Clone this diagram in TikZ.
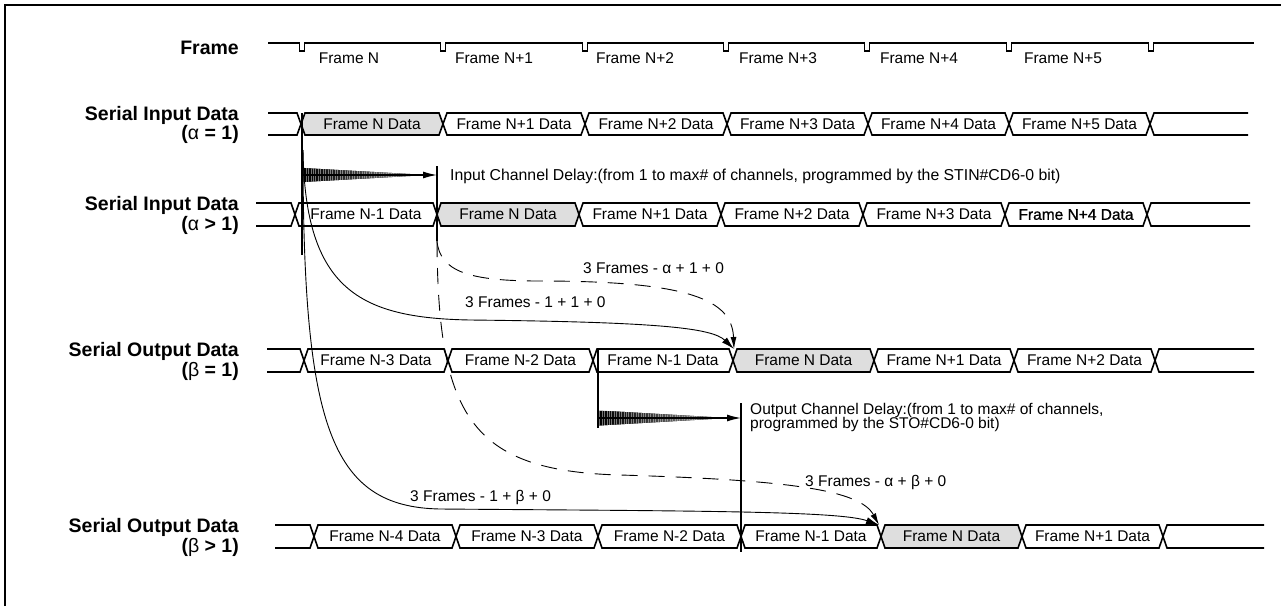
\documentclass[tikz,border=0pt]{standalone}
\usepackage{fontspec}
\setmainfont{Liberation Sans}
\newfontfamily\heavyfont[FakeBold=0.8]{Liberation Sans}
\usetikzlibrary{arrows.meta}
\definecolor{shade}{HTML}{DEDEDE}
\newcommand\busbox[5]{\draw[bus,fill=#5] (#1,{(#3+#4)/2}) -- (#1+4,#3) -- (#2-4,#3) -- (#2,{(#3+#4)/2}) -- (#2-4,#4) -- (#1+4,#4) -- cycle;}
\newcommand\busstart[4]{\draw[bus] (#1,#3) -- (#2-4,#3) -- (#2,{(#3+#4)/2}) -- (#2-4,#4) -- (#1,#4);}
\newcommand\busend[4]{\draw[bus] (#1,#3) -- (#2+4,#3) -- (#2,{(#3+#4)/2}) -- (#2+4,#4) -- (#1,#4);}
\newcommand\hatchwedge[4]{%
  \begin{scope}
    \clip (#1,#2-#3) -- (#4,#2) -- (#1,#2+#3) -- cycle;
    \fill[left color=black!55,right color=black!30] (#1,#2-#3) rectangle (#4,#2+#3);
    \foreach \k in {0,...,75}{\draw[black,line width=0.8pt,opacity={max(0.25,1-\k/70)}] ({#1+1+1.7*\k},#2-#3) -- ({#1+1+1.7*\k},#2+#3);}
  \end{scope}}
\begin{document}
\begin{tikzpicture}[x=1pt,y=-1pt,
  bus/.style={line width=1.6pt,line join=miter},
  sig/.style={line width=1.6pt},
  vline/.style={line width=1.7pt},
  curve/.style={line width=0.9pt,-{Latex[length=13pt,width=7pt]}},
  dcurve/.style={line width=0.9pt,dash pattern=on 16pt off 11pt,-{Latex[length=12pt,width=6pt]}},
  dat/.style={font=\fontsize{15.5}{15.5}\selectfont,inner sep=0pt},
  lab/.style={font=\fontsize{19.5}{16.5}\selectfont\bfseries,inner sep=0pt,align=right,anchor=east},
  note/.style={font=\fontsize{15.8}{15.8}\selectfont,inner sep=0pt,anchor=base west},
]
\useasboundingbox (0,0) rectangle (1281,606);
\draw[line width=2.5pt] (5,606) -- (5,5) -- (1281,5);

% Frame row
\draw[sig] (268,43) \foreach \n in {302,443,585,726,867,1009,1151}{ -- (\n-2.5,43) -- (\n-2.5,51) -- (\n+2.5,51) -- (\n+2.5,43)} -- (1254,43);
\foreach \x/\t [count=\i] in {349/{Frame N},494/{Frame N+1},635/{Frame N+2},778/{Frame N+3},919/{Frame N+4},1063/{Frame N+5}}
  \node[dat,anchor=base] (f\i) at (\x,63) {\t};

% left labels
\node[lab,anchor=base east] (L0) at (239,54) {Frame};
\node[lab] (L1) at (239,125) {Serial Input Data\\({\mdseries α} = 1)};
\node[lab] (L2) at (239,215.5) {Serial Input Data\\({\mdseries α} > 1)};
\node[lab] (L3) at (239,361.5) {Serial Output Data\\({\mdseries β} = 1)};
\node[lab] (L4) at (239,537.5) {Serial Output Data\\({\mdseries β} > 1)};

% Serial input alpha = 1
\busstart{268}{301}{113}{135}
\foreach \a/\b/\f/\t [count=\i] in {301/443/shade/{Frame N Data},443/585/none/{Frame N+1 Data},585/727/none/{Frame N+2 Data},727/868/none/{Frame N+3 Data},868/1009/none/{Frame N+4 Data},1009/1150/none/{Frame N+5 Data}}{
  \busbox{\a}{\b}{113}{135}{\f}
  \node[dat] (ra\i) at ({(\a+\b)/2},124) {\t};}
\busend{1248}{1150}{113}{135}

% Serial input alpha > 1
\busstart{256}{295}{203}{226}
\foreach \a/\b/\f/\t [count=\i] in {295/437/none/{Frame N-1 Data},437/579/shade/{Frame N Data},579/721/none/{Frame N+1 Data},721/863/none/{Frame N+2 Data},863/1005/none/{Frame N+3 Data},1005/1147/none/{\heavyfont Frame N+4 Data}}{
  \busbox{\a}{\b}{203}{226}{\f}
  \node[dat] (rb\i) at ({(\a+\b)/2},214.5) {\t};}
\busend{1250}{1147}{203}{226}

% Serial output beta = 1
\busstart{267}{304}{349}{372}
\foreach \a/\b/\f/\t [count=\i] in {304/448/none/{Frame N-3 Data},448/593/none/{Frame N-2 Data},593/733/none/{Frame N-1 Data},733/874/shade/{Frame N Data},874/1014/none/{Frame N+1 Data},1014/1155/none/{Frame N+2 Data}}{
  \busbox{\a}{\b}{349}{372}{\f}
  \node[dat] (rc\i) at ({(\a+\b)/2},360.5) {\t};}
\busend{1254}{1155}{349}{372}

% Serial output beta > 1
\busstart{275}{314}{525}{548}
\foreach \a/\b/\f/\t [count=\i] in {314/456/none/{Frame N-4 Data},456/598/none/{Frame N-3 Data},598/741/none/{Frame N-2 Data},741/881/none/{Frame N-1 Data},881/1022/shade/{Frame N Data},1022/1163/none/{Frame N+1 Data}}{
  \busbox{\a}{\b}{525}{548}{\f}
  \node[dat] (rd\i) at ({(\a+\b)/2},536.5) {\t};}
\busend{1264}{1163}{525}{548}

% reference coordinates
\coordinate (v1top) at (302,113); \coordinate (v1bot) at (302,255);
\coordinate (v2top) at (437,166); \coordinate (v2bot) at (437,241);
\coordinate (v3top) at (598,349); \coordinate (v3bot) at (598,428);
\coordinate (v4top) at (741,403); \coordinate (v4bot) at (741,552);
\coordinate (wA) at (303,175); \coordinate (wAend) at (437,175);
\coordinate (wB) at (599,418); \coordinate (wBend) at (741,418);
\coordinate (cS) at (303,150);
\coordinate (tipA) at (734,349);
\coordinate (tipB) at (879,525);

% delay wedges
\hatchwedge{303}{175}{7}{428}
\draw[line width=1.3pt,-{Latex[length=14pt,width=7pt]}] (wA) -- (wAend);
\hatchwedge{599}{418}{7.5}{729}
\draw[line width=1.3pt,-{Latex[length=14pt,width=7pt]}] (wB) -- (wBend);

% vertical markers
\draw[vline] (v1top) -- (v1bot);
\draw[vline] (v2top) -- (v2bot);
\draw[vline] (v3top) -- (v3bot);
\draw[vline] (v4top) -- (v4bot);

% delay notes
\node[note] (n1) at (450,180) {Input Channel Delay:(from 1 to max\# of channels, programmed by the STIN\#CD6-0 bit)};
\node[note,align=left,anchor=north west,font=\fontsize{15.5}{14.5}\selectfont] (n2) at (750,403) {Output Channel Delay:(from 1 to max\# of channels,\\programmed by the STO\#CD6-0 bit)};

% latency curves
\draw[curve] (cS) .. controls (305,290) and (360,318) .. (470,320) .. controls (660,322) and (712,328) .. (tipA);
\draw[curve] (cS) .. controls (303,425) and (330,507) .. (440,509) .. controls (700,511) and (840,511) .. (tipB);
\draw[dcurve] (v2bot) .. controls (440,272) and (470,281) .. (540,281) .. controls (690,281) and (732,300) .. (tipA);
\draw[dcurve] (v2bot) .. controls (438,415) and (470,471) .. (620,475) .. controls (790,480) and (860,490) .. (tipB);

% curve labels
\node[note,font=\fontsize{15.5}{15.5}\selectfont] (c1) at (583,273) {3 Frames - α + 1 + 0};
\node[note,font=\fontsize{15.5}{15.5}\selectfont] (c2) at (465,307) {3 Frames - 1 + 1 + 0};
\node[note,font=\fontsize{15.5}{15.5}\selectfont] (c3) at (805,486) {3 Frames - α + β + 0};
\node[note,font=\fontsize{15.5}{15.5}\selectfont] (c4) at (410,501) {3 Frames - 1 + β + 0};
\end{tikzpicture}
\end{document}
